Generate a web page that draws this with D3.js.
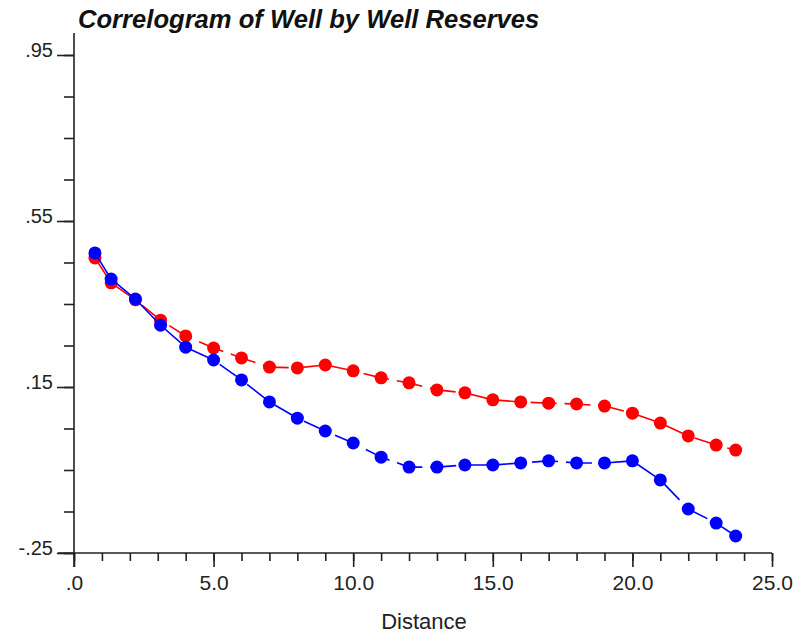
<!DOCTYPE html>
<html>
<head>
<meta charset="utf-8">
<script src="https://cdn.jsdelivr.net/npm/d3@7"></script>
<style>
  body { margin: 0; background: #fff; }
  svg { display: block; }
</style>
</head>
<body>
<script>
// Lag distances and correlation values
const distance = [0.75, 1.33, 2.2, 3.1, 4, 5, 6, 7, 8, 9, 10, 11, 12, 13, 14, 15, 16, 17, 18, 19, 20, 21, 22, 23, 23.7];
const redSeries = [0.461, 0.401, 0.360, 0.311, 0.273, 0.244, 0.220, 0.198, 0.196, 0.203, 0.189, 0.172, 0.160, 0.143, 0.136, 0.119, 0.114, 0.111, 0.109, 0.104, 0.087, 0.063, 0.032, 0.010, -0.002];
const blueSeries = [0.473, 0.410, 0.362, 0.299, 0.246, 0.215, 0.167, 0.114, 0.075, 0.044, 0.015, -0.019, -0.043, -0.043, -0.038, -0.038, -0.033, -0.028, -0.033, -0.033, -0.028, -0.074, -0.144, -0.178, -0.209];
const yTickLabels = ['-.25', '.15', '.55', '.95'];
const xTickLabels = ['.0', '5.0', '10.0', '15.0', '20.0', '25.0'];

const width = 804;
const height = 636;
const plotLeft = 74;
const plotRight = 772;
const plotTop = 55;
const plotBottom = 553;

const svg = d3.select('body')
  .append('svg')
  .attr('width', width)
  .attr('height', height)
  .style('font-family', "'Liberation Sans', Arial, sans-serif")

const xScale = d3.scaleLinear().domain([0, 25]).range([plotLeft, plotRight])
const yScale = d3.scaleLinear().domain([-0.25, 0.95]).range([plotBottom, plotTop])

// Title
svg.append('text')
  .attr('x', 78)
  .attr('y', 28)
  .text('Correlogram of Well by Well Reserves')
  .style('font-size', '25.6px')
  .style('font-weight', 700)
  .style('font-style', 'italic')
  .style('fill', '#111')

// x axis: minor ticks every 1, major every 5
const xMinor = d3.axisBottom(xScale)
  .tickValues(d3.range(0, 26, 1))
  .tickSize(8)
  .tickFormat('')
const xMajor = d3.axisBottom(xScale)
  .tickValues(d3.range(0, 26, 5))
  .tickSize(14)
  .tickPadding(8)
  .tickFormat((d, i) => xTickLabels[i])

const gxMinor = svg.append('g')
  .attr('transform', `translate(0, ${plotBottom})`)
  .call(xMinor)
const gx = svg.append('g')
  .attr('transform', `translate(0, ${plotBottom})`)
  .call(xMajor)

gxMinor.select('.domain').remove()
gx.select('.domain').attr('d', `M${plotLeft - 16},0H${plotRight}`)

// y axis: minor ticks every 0.1, major every 0.4
const yMinor = d3.axisLeft(yScale)
  .tickValues(d3.range(-0.25, 0.951, 0.1))
  .tickSize(10)
  .tickFormat('')
const yMajor = d3.axisLeft(yScale)
  .tickValues([-0.25, 0.15, 0.55, 0.95])
  .tickSize(17)
  .tickPadding(4)
  .tickFormat((d, i) => yTickLabels[i])

const gyMinor = svg.append('g')
  .attr('transform', `translate(${plotLeft}, 0)`)
  .call(yMinor)
const gy = svg.append('g')
  .attr('transform', `translate(${plotLeft}, 0)`)
  .call(yMajor)

gyMinor.select('.domain').remove()
gy.select('.domain').attr('d', `M0,33V${plotBottom + 14}`)

svg.selectAll('.domain, .tick line')
  .style('stroke', '#222')
  .style('stroke-width', 1.6)

gx.selectAll('.tick text')
  .style('font-size', '21px')
  .style('fill', '#222')
gy.selectAll('.tick text')
  .style('font-size', '20px')
  .style('fill', '#222')
  .attr('dy', '0.07em')

// x axis title
svg.append('text')
  .attr('x', 424)
  .attr('y', 629)
  .attr('text-anchor', 'middle')
  .text('Distance')
  .style('font-size', '22px')
  .style('fill', '#222')

// Series
const series = [
  { values: redSeries, color: '#ff0000' },
  { values: blueSeries, color: '#0000ff' }
]

const line = d3.line()
  .x(d => xScale(d[0]))
  .y(d => yScale(d[1]))

series.forEach(s => {
  const pts = distance.map((x, i) => [x, s.values[i]])

  svg.append('path')
    .datum(pts)
    .attr('d', line)
    .style('fill', 'none')
    .style('stroke', s.color)
    .style('stroke-width', 1.6)
    .style('stroke-dasharray', '26,8')

  svg.append('g')
    .selectAll('circle')
    .data(pts)
    .enter()
    .append('circle')
    .attr('cx', d => xScale(d[0]))
    .attr('cy', d => yScale(d[1]))
    .attr('r', 6.5)
    .style('fill', s.color)
})
</script>
</body>
</html>
